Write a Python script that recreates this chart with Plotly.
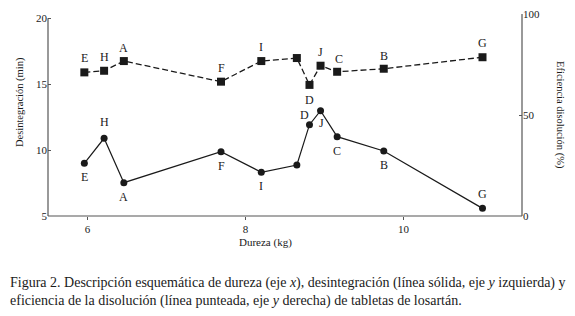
import plotly.graph_objects as go

labels = ["E", "H", "A", "F", "I", "", "D", "J", "C", "B", "G"]
dureza = [5.96, 6.21, 6.46, 7.69, 8.20, 8.65, 8.81, 8.95, 9.16, 9.75, 11.00]
desintegracion = [9.0, 10.9, 7.53, 9.88, 8.32, 8.87, 11.93, 12.99, 11.02, 9.93, 5.58]
eficiencia = [71.1, 71.9, 76.7, 66.5, 76.7, 78.2, 64.9, 74.4, 71.4, 72.9, 78.6]

# label offsets (dx, dy in px) for each series
des_off = [(0, -14), (0, 16), (0, -14), (0, -14), (0, -14), None, (-5, 10), (1, -12), (0, -14), (0, -14), (0, 14)]
efi_off = [(0, 14), (0, 14), (0, 13), (0, 14), (0, 14), None, (0, -15), (0, 14), (2, 13), (0, 13), (0, 14)]

FONT = "Liberation Serif"
INK = "#1a1a1a"

fig = go.Figure()
fig.add_trace(go.Scatter(
    x=dureza, y=desintegracion, mode="lines+markers",
    line=dict(color=INK, width=1.2),
    marker=dict(symbol="circle", size=7, color=INK),
    yaxis="y", showlegend=False, hoverinfo="skip",
))
fig.add_trace(go.Scatter(
    x=dureza, y=eficiencia, mode="lines+markers",
    line=dict(color=INK, width=1.3, dash="6px,3px"),
    marker=dict(symbol="square", size=8, color=INK),
    yaxis="y2", showlegend=False, hoverinfo="skip",
))

ann = []
for lab, xv, yv, off in zip(labels, dureza, desintegracion, des_off):
    if lab and off:
        ann.append(dict(x=xv, y=yv, xref="x", yref="y", text=lab, showarrow=False,
                        xanchor="center", yanchor="middle",
                        xshift=off[0], yshift=off[1], font=dict(family=FONT, size=12, color=INK)))
for lab, xv, yv, off in zip(labels, dureza, eficiencia, efi_off):
    if lab and off:
        ann.append(dict(x=xv, y=yv, xref="x", yref="y2", text=lab, showarrow=False,
                        xanchor="center", yanchor="middle",
                        xshift=off[0], yshift=off[1], font=dict(family=FONT, size=12, color=INK)))

# axis titles
ann.append(dict(x=-0.059, y=0.564, xref="paper", yref="paper", text="Desintegración (min)",
                xanchor="center", yanchor="middle",
                textangle=-90, showarrow=False, font=dict(family=FONT, size=10.5, color=INK)))
ann.append(dict(x=1.08, y=0.5, xref="paper", yref="paper", text="Eficiencia disolución (%)",
                xanchor="center", yanchor="middle",
                textangle=90, showarrow=False, font=dict(family=FONT, size=10.5, color=INK)))
ann.append(dict(x=0.458, y=-0.13, xref="paper", yref="paper", text="Dureza (kg)",
                xanchor="center", yanchor="middle",
                showarrow=False, font=dict(family=FONT, size=11, color=INK)))
# caption
ann.append(dict(x=-0.0845, y=-0.332, xref="paper", yref="paper", xanchor="left", yanchor="middle",
                text="Figura 2. Descripción esquemática de dureza (eje <i>x</i>), desintegración (línea sólida, eje <i>y</i> izquierda) y",
                showarrow=False, font=dict(family=FONT, size=14, color=INK)))
ann.append(dict(x=-0.0845, y=-0.422, xref="paper", yref="paper", xanchor="left", yanchor="middle",
                text="eficiencia de la disolución (línea punteada, eje <i>y</i> derecha) de tabletas de losartán.",
                showarrow=False, font=dict(family=FONT, size=14, color=INK)))

shapes = [
    dict(type="line", xref="paper", yref="y", x0=0, x1=0, y0=5, y1=20, line=dict(color="#555", width=1.2)),
    dict(type="line", xref="paper", yref="y2", x0=1, x1=1, y0=0, y1=100, line=dict(color="#555", width=1.2)),
    dict(type="line", xref="paper", yref="paper", x0=0, x1=1, y0=0, y1=0, line=dict(color="#555", width=1.2)),
]

fig.update_layout(
    template="none",
    width=575, height=316,
    margin=dict(l=48, r=53, t=14, b=100, autoexpand=False),
    paper_bgcolor="white", plot_bgcolor="white",
    font=dict(family=FONT, size=11, color=INK),
    annotations=ann, shapes=shapes,
    xaxis=dict(range=[5.5, 11.5], tickvals=[6, 8, 10], ticks="outside", ticklen=3,
               tickcolor="#555", showgrid=False, zeroline=False, showline=False, automargin=False,
               tickfont=dict(family=FONT, size=11, color=INK)),
    yaxis=dict(range=[5, 20.33], tickvals=[5, 10, 15, 20], ticks="inside", ticklen=3,
               tickcolor="#555", showgrid=False, zeroline=False, showline=False, automargin=False,
               tickfont=dict(family=FONT, size=11, color=INK)),
    yaxis2=dict(range=[0, 100], tickvals=[0, 50, 100], ticks="inside", ticklen=3,
                tickcolor="#555", overlaying="y", side="right", showgrid=False,
                zeroline=False, showline=False, automargin=False,
                tickfont=dict(family=FONT, size=11, color=INK)),
)

fig.write_html("out.html", config={"displayModeBar": False},
               post_script="document.body.style.margin='0';document.body.style.padding='0';")
